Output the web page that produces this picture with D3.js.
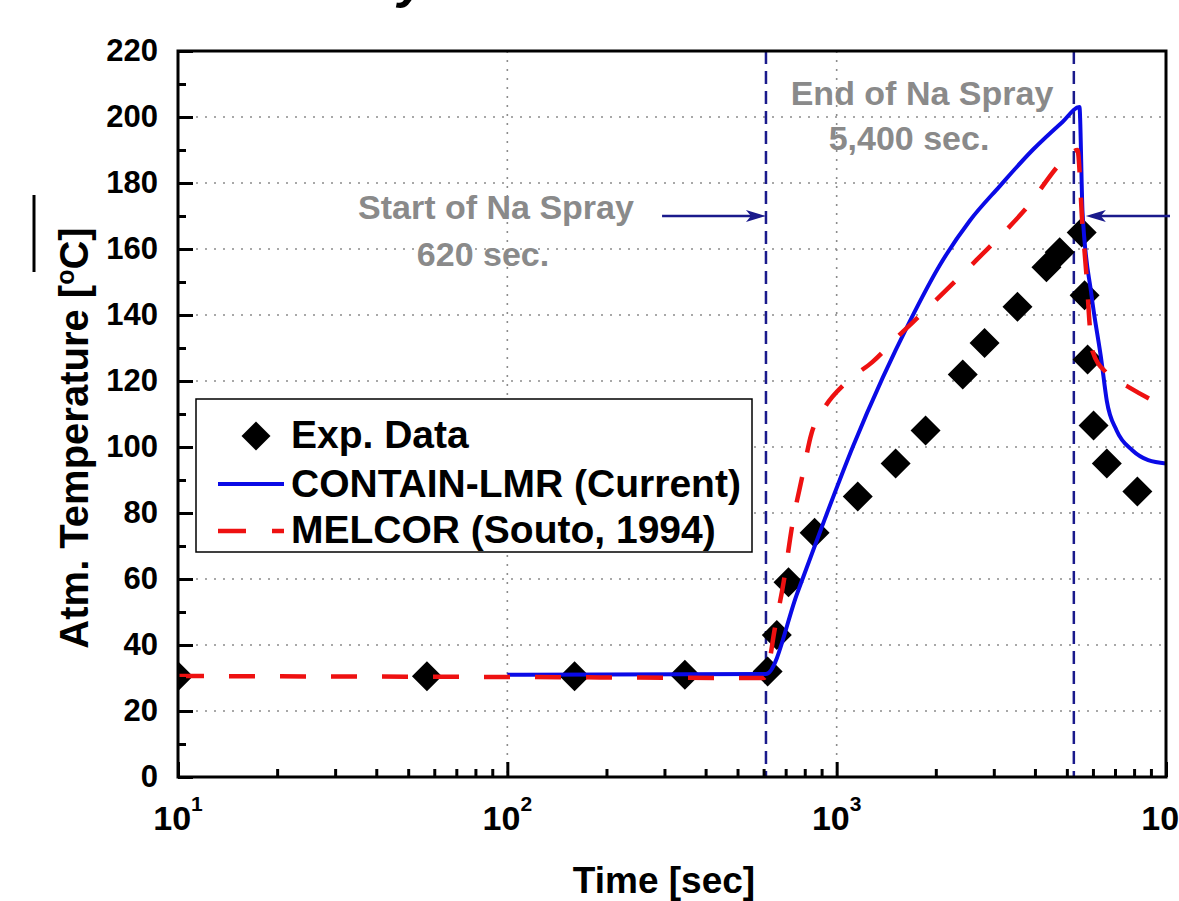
<!DOCTYPE html>
<html>
<head>
<meta charset="utf-8">
<script src="https://cdn.jsdelivr.net/npm/d3@7"></script>
<style>
  body { margin: 0; background: #fff; }
  text { font-family: "Liberation Sans", Arial, sans-serif; font-weight: bold; }
</style>
</head>
<body>
<div id="chart"></div>
<script>
// experimental data (time [s], temperature [C])
var expTime = [10, 57, 160, 346, 617, 658, 714, 857, 1159, 1510, 1862, 2415, 2812, 3540, 4335, 4755, 5546, 5660, 5780, 6026, 6610, 8185];
var expTemp = [30.5, 30.5, 30.5, 31, 32, 43, 59, 74, 85, 95, 105, 122, 131.5, 142.5, 154.5, 159, 165, 146, 126.5, 106.5, 95, 86.5];

// CONTAIN-LMR (Current)
var containTime = [100, 610, 761, 919, 1119, 1380, 1666, 2054, 2533, 3124, 3935, 4850, 5460, 5580, 5940, 6370, 6610, 7080, 7900, 8830, 10000];
var containTemp = [31, 31.2, 56, 78, 100, 121, 138, 155, 168.5, 179, 190, 198.5, 203, 171, 146, 126, 114, 105, 99, 96, 95];

// MELCOR (Souto, 1994)
var melcorTime = [10, 100, 600, 612, 649, 690, 735, 786, 838, 907, 1072, 1285, 1552, 1824, 2660, 3722, 5027, 5385, 5580, 5740, 5865, 5985, 6605, 7750, 10000];
var melcorTemp = [30.6, 30.3, 30, 31, 45, 59, 77, 91, 104, 111, 119.7, 125.8, 134, 140.6, 156.7, 171.8, 188, 190, 166.7, 151.5, 137, 129, 122.4, 118, 112];

var yTicks = [0, 20, 40, 60, 80, 100, 120, 140, 160, 180, 200, 220];
var yMinor = [10, 30, 50, 70, 90, 110, 130, 150, 170, 190, 210];
var xTicks = [10, 100, 1000, 10000];
var xTickExp = ["1", "2", "3", "4"];
var xMinor = [20, 30, 40, 50, 60, 70, 80, 90, 200, 300, 400, 500, 600, 700, 800, 900, 2000, 3000, 4000, 5000, 6000, 7000, 8000, 9000];

// vertical markers (start / end of Na spray)
var sprayStart = 610, sprayEnd = 5250;

var W = 1179, H = 901;
var margin = {top: 51, right: 13, bottom: 124, left: 178},
    width = W - margin.left - margin.right,
    height = H - margin.top - margin.bottom;

var svg = d3.select("#chart").append("svg")
    .attr("width", W).attr("height", H);

// part of a title cut off by the top of the picture
svg.append("text").attr("x", 398).attr("y", -3)
  .style("font-size", "52px").style("font-style", "italic").text("y");
// stray mark on the left
svg.append("line").attr("x1", 34).attr("x2", 34).attr("y1", 195).attr("y2", 272)
  .attr("stroke", "#000").attr("stroke-width", 3);

var g = svg.append("g")
    .attr("transform", "translate(" + margin.left + "," + margin.top + ")");

var x = d3.scaleLog().domain([10, 10000]).range([0, width]);
var y = d3.scaleLinear().domain([0, 220]).range([height, 0]);

g.append("clipPath").attr("id", "plotclip")
  .append("rect").attr("width", width).attr("height", height);

// grid
g.append("g").selectAll("line")
  .data(yTicks.filter(function(d) { return d > 0 && d < 220; }))
  .join("line")
    .attr("x1", 0).attr("x2", width)
    .attr("y1", function(d) { return y(d); }).attr("y2", function(d) { return y(d); })
    .attr("stroke", "#8c8c8c").attr("stroke-width", 1.6).attr("stroke-dasharray", "2,7");
g.append("g").selectAll("line")
  .data([100, 1000])
  .join("line")
    .attr("x1", function(d) { return x(d); }).attr("x2", function(d) { return x(d); })
    .attr("y1", 0).attr("y2", height)
    .attr("stroke", "#8c8c8c").attr("stroke-width", 1.6).attr("stroke-dasharray", "2,7");

// spray markers
g.append("g").selectAll("line")
  .data([sprayStart, sprayEnd])
  .join("line")
    .attr("x1", function(d) { return x(d); }).attr("x2", function(d) { return x(d); })
    .attr("y1", 0).attr("y2", height)
    .attr("stroke", "#1a1a8c").attr("stroke-width", 2.5).attr("stroke-dasharray", "13,7");

var plot = g.append("g").attr("clip-path", "url(#plotclip)");

// exp. data diamonds
var diamond = d3.symbol().type(d3.symbolSquare).size(450);
plot.append("g").selectAll("path")
  .data(d3.zip(expTime, expTemp))
  .join("path")
    .attr("d", diamond)
    .attr("transform", function(d) { return "translate(" + x(d[0]) + "," + y(d[1]) + ") rotate(45)"; })
    .attr("fill", "#000");

var line = d3.line()
    .x(function(d) { return x(d[0]); })
    .y(function(d) { return y(d[1]); })
    .curve(d3.curveMonotoneX);

plot.append("path")
  .datum(d3.zip(containTime, containTemp))
  .attr("fill", "none").attr("stroke", "#0a0ae6").attr("stroke-width", 4)
  .attr("d", line);

plot.append("path")
  .datum(d3.zip(melcorTime, melcorTemp))
  .attr("fill", "none").attr("stroke", "#ee1111").attr("stroke-width", 4.5)
  .attr("stroke-dasharray", "26,25")
  .attr("d", line);

// axes (ticks pointing inward)
var yAxis = g.append("g")
  .call(d3.axisLeft(y).tickValues(yTicks).tickSize(-15).tickPadding(20));
yAxis.selectAll("text").style("font-size", "31px").attr("fill", "#000");
yAxis.selectAll("line").attr("stroke", "#000").attr("stroke-width", 3);
yAxis.select(".domain").remove();
var yAxisMinor = g.append("g")
  .call(d3.axisLeft(y).tickValues(yMinor).tickSize(-8).tickFormat(""));
yAxisMinor.selectAll("line").attr("stroke", "#000").attr("stroke-width", 3);
yAxisMinor.select(".domain").remove();

var xAxis = g.append("g").attr("transform", "translate(0," + height + ")")
  .call(d3.axisBottom(x).tickValues(xTicks).tickSize(-15).tickFormat(""));
xAxis.selectAll("line").attr("stroke", "#000").attr("stroke-width", 3);
xAxis.select(".domain").remove();
var xAxisMinor = g.append("g").attr("transform", "translate(0," + height + ")")
  .call(d3.axisBottom(x).tickValues(xMinor).tickSize(-8).tickFormat(""));
xAxisMinor.selectAll("line").attr("stroke", "#000").attr("stroke-width", 3);
xAxisMinor.select(".domain").remove();

// x tick labels 10^n
xTicks.forEach(function(t, i) {
  var lab = g.append("text")
    .attr("x", x(t)).attr("y", height + 53)
    .attr("text-anchor", "middle").style("font-size", "34px");
  lab.append("tspan").text("10");
  lab.append("tspan").attr("dy", -19).style("font-size", "21px").text(xTickExp[i]);
});

// frame
g.append("rect").attr("width", width).attr("height", height)
  .attr("fill", "none").attr("stroke", "#000").attr("stroke-width", 3);

// axis titles
svg.append("text")
  .attr("x", margin.left + width / 2 - 8).attr("y", 893)
  .attr("text-anchor", "middle").style("font-size", "37px")
  .text("Time [sec]");
var yTitle = svg.append("text")
  .attr("transform", "translate(88,438) rotate(-90)")
  .attr("text-anchor", "middle").style("font-size", "40px");
yTitle.append("tspan").text("Atm. Temperature [");
yTitle.append("tspan").attr("dy", -14).style("font-size", "25px").text("o");
yTitle.append("tspan").attr("dy", 14).text("C]");

// annotations
var annoColor = "#8a8a8a", arrowColor = "#1a1a8c";
g.append("text").attr("x", 318).attr("y", 168).attr("text-anchor", "middle")
  .attr("fill", annoColor).style("font-size", "34px").text("Start of Na Spray");
g.append("text").attr("x", 305).attr("y", 215).attr("text-anchor", "middle")
  .attr("fill", annoColor).style("font-size", "34px").text("620 sec.");
g.append("text").attr("x", 744).attr("y", 54).attr("text-anchor", "middle")
  .attr("fill", annoColor).style("font-size", "34px").text("End of Na Spray");
g.append("text").attr("x", 731).attr("y", 99).attr("text-anchor", "middle")
  .attr("fill", annoColor).style("font-size", "34px").text("5,400 sec.");

function arrow(x0, x1, yy) {
  var dir = x1 > x0 ? 1 : -1;
  g.append("line").attr("x1", x0).attr("x2", x1 - dir * 6).attr("y1", yy).attr("y2", yy)
    .attr("stroke", arrowColor).attr("stroke-width", 2.5);
  g.append("path")
    .attr("d", "M" + x1 + "," + yy + "L" + (x1 - dir * 20) + "," + (yy - 6) +
      "L" + (x1 - dir * 15) + "," + yy + "L" + (x1 - dir * 20) + "," + (yy + 6) + "Z")
    .attr("fill", arrowColor);
}
arrow(x(295), x(sprayStart), y(170));
arrow(width + 4, x(sprayEnd) + 12, y(170));

// legend
var leg = svg.append("g");
leg.append("rect").attr("x", 196).attr("y", 399).attr("width", 556).attr("height", 153)
  .attr("fill", "#fff").attr("stroke", "#000").attr("stroke-width", 1.5);
leg.append("path").attr("d", d3.symbol().type(d3.symbolSquare).size(420))
  .attr("transform", "translate(256,436) rotate(45)").attr("fill", "#000");
leg.append("line").attr("x1", 218).attr("x2", 284).attr("y1", 484).attr("y2", 484)
  .attr("stroke", "#0a0ae6").attr("stroke-width", 4);
leg.append("line").attr("x1", 218).attr("x2", 284).attr("y1", 531).attr("y2", 531)
  .attr("stroke", "#ee1111").attr("stroke-width", 4.5).attr("stroke-dasharray", "28,26");
var legLabels = ["Exp. Data", "CONTAIN-LMR (Current)", "MELCOR (Souto, 1994)"];
var legBase = [448, 497, 543];
legLabels.forEach(function(s, i) {
  leg.append("text").attr("x", 291).attr("y", legBase[i])
    .style("font-size", "39px").text(s);
});
</script>
</body>
</html>
